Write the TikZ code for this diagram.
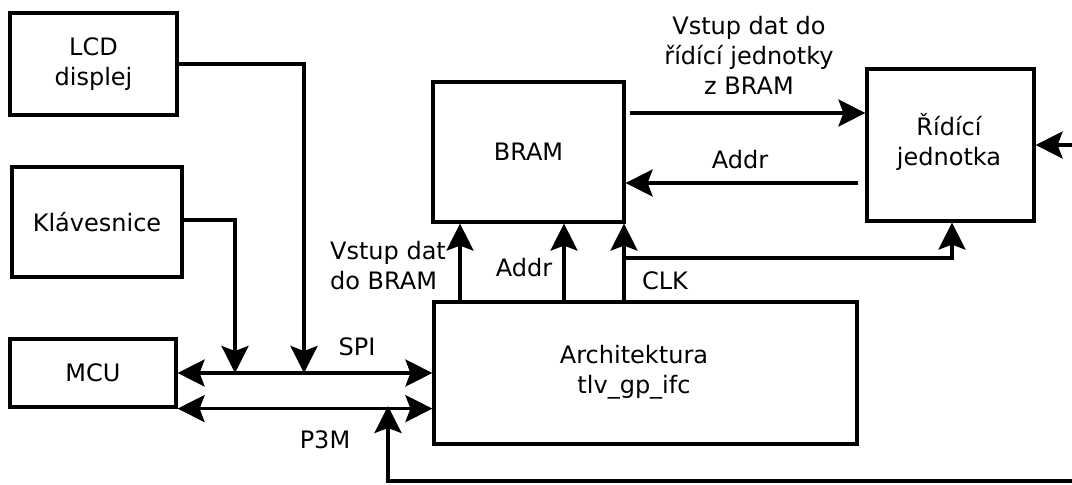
\documentclass[tikz,border=0pt]{standalone}
\usepackage{fontspec}
\setmainfont{DejaVu Sans}
\usetikzlibrary{arrows.meta}
\begin{document}
\begin{tikzpicture}[x=1pt,y=-1pt,
  box/.style={draw, line width=3.2pt, inner sep=0pt, align=center, font=\fontsize{24}{30}\selectfont},
  arr/.style={line width=3.2pt, -{Stealth[length=27pt,width=27pt,inset=5pt]}},
  darr/.style={line width=3.2pt, {Stealth[length=27pt,width=27pt,inset=5pt]}-{Stealth[length=27pt,width=27pt,inset=5pt]}},
  lbl/.style={inner sep=0pt, align=center, font=\fontsize{24}{30}\selectfont}]
\useasboundingbox (0,0) rectangle (1072,485);
% boxes
\node[box, minimum width=167pt, minimum height=102pt] (lcd) at (93.5,64) {LCD\\displej};
\node[box, minimum width=170pt, minimum height=110pt] (klav) at (97,222) {Klávesnice};
\node[box, minimum width=166pt, minimum height=68pt] (mcu) at (93,373) {MCU};
\node[box, minimum width=423pt, minimum height=142pt] (arch) at (645.5,373) {};
\node[lbl] (archlbl) at (634,372) {Architektura\\tlv\_gp\_ifc};
\node[box, minimum width=191pt, minimum height=140pt] (bram) at (528.5,152) {BRAM};
\node[box, minimum width=167pt, minimum height=152pt] (ridici) at (950.5,145) {};
\node[lbl] (ridlbl) at (949,142) {Řídící\\jednotka};
% coordinates
\coordinate (spiA) at (235,373);
\coordinate (spiB) at (304,373);
\coordinate (pin) at (1072,481);
\coordinate (p3mj) at (388,406);
\coordinate (rin) at (1072,145);
\coordinate (clkj) at (624,258);
% connectors
\draw[arr] (lcd.east) -| (spiB);
\draw[arr] (klav.east |- 0,220) -| (spiA);
\draw[darr] (mcu.east) -- (arch.west |- mcu.east);
\draw[darr] (mcu.south east) -- (arch.west |- mcu.south east);
\draw[arr] (pin) -| (p3mj);
\draw[arr] (rin) -- (ridici.east);
\draw[arr, shorten <=4pt] (bram.east |- 0,113) -- (ridici.west |- 0,113);
\draw[arr, shorten <=7pt] (ridici.west |- 0,183) -- (bram.east |- 0,183);
\draw[arr] (arch.north -| 460,0) -- (bram.south -| 460,0);
\draw[arr] (arch.north -| 564,0) -- (bram.south -| 564,0);
\draw[arr] (arch.north -| 624,0) -- (bram.south -| 624,0);
\draw[arr] (clkj) -| (ridici.south -| 952,0);
% labels
\node[lbl, align=left] (l1) at (388,266) {Vstup dat\\do BRAM};
\node[lbl] (l2) at (524,268) {Addr};
\node[lbl] (l3) at (665,281) {CLK};
\node[lbl] (l4) at (357,347) {SPI};
\node[lbl] (l5) at (325,440) {P3M};
\node[lbl] (l6) at (749,55) {Vstup dat do\\řídící jednotky\\z BRAM};
\node[lbl] (l7) at (740,160) {Addr};
\end{tikzpicture}
\end{document}
